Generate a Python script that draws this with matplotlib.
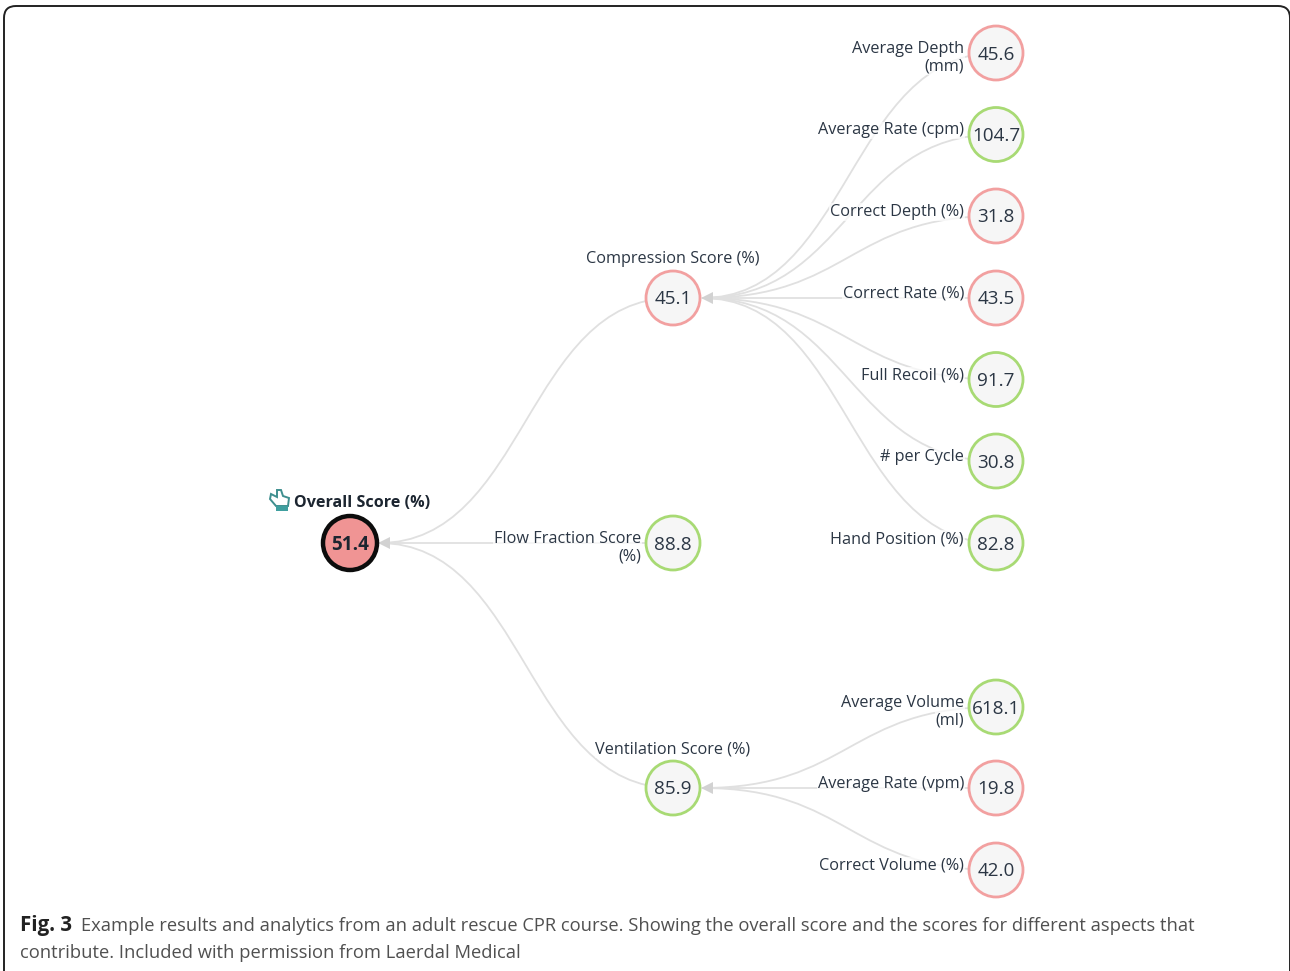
"""Redraw of the CPR course score tree (Fig. 3) as out.png."""

from __future__ import annotations

import matplotlib
matplotlib.use("Agg")
import matplotlib.pyplot as plt
from matplotlib.patches import Circle, FancyBboxPatch, PathPatch, Polygon
from matplotlib.path import Path

plt.rcParams["font.family"] = ["Open Sans", "DejaVu Sans"]

# scores
root_label = "Overall Score (%)"
root_value = "51.4"

mid_labels = ["Compression Score (%)", "Flow Fraction Score\n(%)", "Ventilation Score (%)"]
mid_values = ["45.1", "88.8", "85.9"]
mid_pass = [False, True, True]

compression_labels = ["Average Depth\n(mm)", "Average Rate (cpm)", "Correct Depth (%)",
                      "Correct Rate (%)", "Full Recoil (%)", "# per Cycle", "Hand Position (%)"]
compression_values = ["45.6", "104.7", "31.8", "43.5", "91.7", "30.8", "82.8"]
compression_pass = [False, True, False, False, True, True, True]

ventilation_labels = ["Average Volume\n(ml)", "Average Rate (vpm)", "Correct Volume (%)"]
ventilation_values = ["618.1", "19.8", "42.0"]
ventilation_pass = [True, False, False]

caption_bold = "Fig. 3"
caption_line1 = "Example results and analytics from an adult rescue CPR course. Showing the overall score and the scores for different aspects that"
caption_line2 = "contribute. Included with permission from Laerdal Medical"

# layout, in image pixels
X_ROOT, X_MID, X_LEAF = 350, 673, 996
R = 27
Y_ROOT = 543
Y_MID = [298, 543, 788]
Y_COMPRESSION = [53, 134.5, 216, 298, 379.5, 461, 543]
Y_VENTILATION = [707, 788, 870]

GREEN = "#a8da74"
RED = "#f2a0a0"
FILL = "#f6f6f6"
LINK = "#e0e0e0"
TEXT = "#2b3644"
LABEL_SIZE = 11.7
HALO = dict(facecolor="white", edgecolor="none", alpha=0.7, pad=0.5)


def link(ax, x_parent, y_parent, x_child, y_child):
    # ends at the child's centre, the circle hides the last stretch
    x0 = x_parent + R + 2
    xm = (x0 + x_child) / 2
    path = Path([(x0, y_parent), (xm, y_parent), (xm, y_child), (x_child, y_child)],
                [Path.MOVETO, Path.CURVE4, Path.CURVE4, Path.CURVE4])
    ax.add_patch(PathPatch(path, fill=False, edgecolor=LINK, linewidth=1.3, zorder=1))


def arrow(ax, x_parent, y_parent):
    x0 = x_parent + R + 1
    ax.add_patch(Polygon([(x0, y_parent), (x0 + 12, y_parent - 6), (x0 + 12, y_parent + 6)],
                         closed=True, facecolor="#d2d2d2", edgecolor="none", zorder=2))


def node(ax, x, y, value, passed):
    ax.add_patch(Circle((x, y), R, facecolor=FILL, edgecolor=GREEN if passed else RED,
                        linewidth=2.0, zorder=3))
    ax.text(x, y - 0.5, value, ha="center", va="center_baseline", fontsize=13.6, color=TEXT, zorder=4)


def label(ax, x, y, text, ha="right"):
    ax.text(x, y, text, ha=ha, va="center", fontsize=LABEL_SIZE, color=TEXT, zorder=2.5, bbox=HALO)


def side_label(ax, x, y, text):
    if "\n" in text:
        first, second = text.split("\n")
        label(ax, x, y - 4, first)
        label(ax, x, y + 13.5, second)
    else:
        label(ax, x, y - 4, text)


def main() -> None:
    fig = plt.figure(figsize=(12.9, 9.71), dpi=100)
    ax = fig.add_axes([0, 0, 1, 1])
    ax.set_xlim(0, 1290)
    ax.set_ylim(971, 0)
    ax.axis("off")

    # card outline, the bottom edge runs off the image
    ax.add_patch(FancyBboxPatch((14, 16), 1266, 980, boxstyle="round,pad=10,rounding_size=12",
                                facecolor="white", edgecolor="#222222", linewidth=1.4,
                                mutation_aspect=1, zorder=0))

    # links
    for y in Y_MID:
        link(ax, X_ROOT, Y_ROOT, X_MID, y)
    for y in Y_COMPRESSION:
        link(ax, X_MID, Y_MID[0], X_LEAF, y)
    for y in Y_VENTILATION:
        link(ax, X_MID, Y_MID[2], X_LEAF, y)
    arrow(ax, X_ROOT, Y_ROOT)
    arrow(ax, X_MID, Y_MID[0])
    arrow(ax, X_MID, Y_MID[2])

    # root
    ax.add_patch(Circle((X_ROOT, Y_ROOT), R, facecolor="#f09494", edgecolor="#0c0c0c",
                        linewidth=3.2, zorder=3))
    ax.text(X_ROOT, Y_ROOT - 0.5, root_value, ha="center", va="center_baseline", fontsize=13.6,
            fontweight="bold", color="#1c2530", zorder=4)
    ax.text(294, 503, root_label, ha="left", va="center", fontsize=11.6, fontweight="bold",
            color="#1c2530", zorder=4)

    # hand icon
    hand = [(271, 494), (277, 497), (277, 490), (281, 490), (283, 496), (289, 498), (288, 506),
            (276, 506), (270, 499)]
    ax.add_patch(Polygon(hand, closed=True, facecolor="white", edgecolor="#3f8f8f", linewidth=1.4, zorder=4))
    ax.add_patch(Polygon([(276, 506), (288, 506), (288, 511), (276, 511)], closed=True,
                         facecolor="#3f9f9f", edgecolor="none", zorder=4))

    # middle nodes
    for y, value, passed in zip(Y_MID, mid_values, mid_pass):
        node(ax, X_MID, y, value, passed)
    label(ax, X_MID, 259, mid_labels[0], ha="center")
    side_label(ax, X_MID - 32, Y_MID[1], mid_labels[1])
    label(ax, X_MID, 749, mid_labels[2], ha="center")

    # leaves
    for y, text, value, passed in zip(Y_COMPRESSION, compression_labels, compression_values, compression_pass):
        node(ax, X_LEAF, y, value, passed)
        side_label(ax, X_LEAF - 32, y, text)
    for y, text, value, passed in zip(Y_VENTILATION, ventilation_labels, ventilation_values, ventilation_pass):
        node(ax, X_LEAF, y, value, passed)
        side_label(ax, X_LEAF - 32, y, text)

    # caption
    ax.text(20, 926, caption_bold, ha="left", va="center", fontsize=14.8, fontweight="bold", color="#222222")
    ax.text(81, 926, caption_line1, ha="left", va="center", fontsize=13.25, color="#505050")
    ax.text(20, 953, caption_line2, ha="left", va="center", fontsize=13.25, color="#505050")

    fig.savefig("out.png", dpi=100)


if __name__ == "__main__":
    main()
